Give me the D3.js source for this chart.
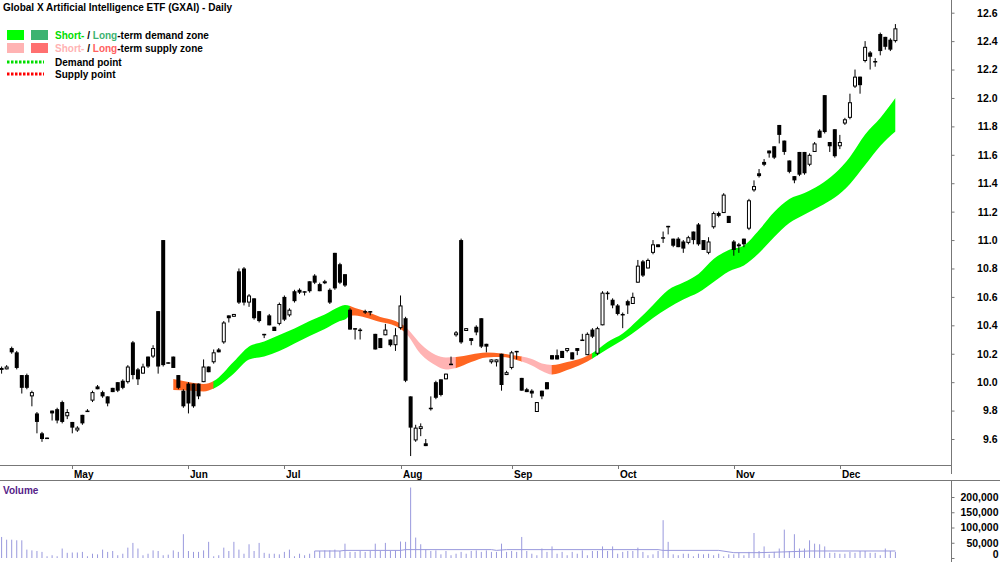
<!DOCTYPE html>
<html>
<head>
<meta charset="utf-8">
<script src="https://cdn.jsdelivr.net/npm/d3@7"></script>
<style>
  body { margin: 0; background: #fff; }
  svg { display: block; font-family: "Liberation Sans", Arial, sans-serif; }
</style>
</head>
<body>
<svg id="chart" width="1000" height="562"></svg>
<script>
// daily candles, 10 Apr 2024 .. 17 Dec 2024 (trading days, index 0..177)
const opens = [
  10.09,10.09,10.24,10.21,10.05,10.05,9.90,9.78,9.64,9.61,
  9.80,9.81,9.86,9.76,9.72,9.66,9.77,9.80,9.87,9.97,
  9.93,9.90,9.96,10.00,10.01,10.00,10.28,10.09,10.06,10.18,
  10.18,10.50,11.00,10.14,10.18,10.05,9.94,9.99,9.99,9.99,
  10.00,10.11,10.14,10.23,10.28,10.47,10.46,10.78,10.80,10.56,
  10.59,10.50,10.34,10.47,10.39,10.41,10.60,10.47,10.64,10.65,
  10.64,10.71,10.75,10.69,10.70,10.65,10.91,10.83,10.76,10.51,
  10.38,10.37,10.50,10.50,10.34,10.31,10.33,10.30,10.26,10.38,
  10.45,9.90,9.59,9.67,9.57,9.82,10.00,10.02,10.02,10.13,
  10.33,11.00,10.36,10.31,10.39,10.45,10.27,10.14,10.14,10.20,
  10.05,10.10,10.22,10.03,9.95,9.94,9.79,9.94,10.00,10.19,
  10.19,10.22,10.22,10.21,10.24,10.30,10.19,10.37,10.20,10.40,
  10.63,10.58,10.54,10.48,10.57,10.55,10.70,10.85,10.80,10.91,
  10.97,11.02,11.10,11.01,11.01,10.99,10.98,11.06,11.11,11.00,
  10.91,11.09,11.19,11.19,11.17,10.99,10.96,11.01,11.08,11.35,
  11.47,11.55,11.63,11.66,11.81,11.70,11.56,11.45,11.62,11.62,
  11.53,11.62,11.77,12.02,11.69,11.78,11.66,11.82,11.86,12.08,
  12.15,12.26,12.32,12.26,12.45,12.43,12.41,12.40
];
const highs = [
  10.11,10.12,10.25,10.22,10.05,10.06,9.94,9.79,9.65,9.61,
  9.80,9.82,9.87,9.81,9.72,9.69,9.77,9.81,9.94,9.98,
  9.94,9.90,9.96,10.00,10.02,10.12,10.29,10.10,10.13,10.18,
  10.26,10.50,11.00,10.14,10.18,10.05,9.95,10.00,9.99,9.99,
  10.16,10.11,10.23,10.24,10.43,10.47,10.48,10.80,10.81,10.62,
  10.59,10.50,10.34,10.48,10.39,10.56,10.61,10.52,10.65,10.66,
  10.64,10.71,10.76,10.70,10.72,10.66,10.91,10.84,10.76,10.52,
  10.38,10.38,10.51,10.50,10.34,10.31,10.41,10.30,10.38,10.61,
  10.46,9.90,9.70,9.71,9.60,9.90,10.01,10.02,10.06,10.18,
  10.36,11.01,10.38,10.31,10.40,10.45,10.27,10.16,10.16,10.20,
  10.08,10.22,10.22,10.03,9.96,9.95,9.86,9.94,10.00,10.19,
  10.23,10.22,10.24,10.21,10.24,10.34,10.35,10.38,10.39,10.64,
  10.64,10.59,10.55,10.49,10.58,10.63,10.86,10.86,10.87,11.00,
  10.97,11.06,11.10,11.01,11.02,11.00,11.03,11.06,11.12,11.00,
  11.02,11.20,11.20,11.33,11.17,11.00,10.98,11.01,11.29,11.42,
  11.50,11.57,11.63,11.66,11.81,11.70,11.56,11.45,11.62,11.62,
  11.61,11.69,11.78,12.02,11.69,11.78,11.74,11.86,12.03,12.20,
  12.15,12.40,12.33,12.28,12.46,12.43,12.42,12.52
];
const lows = [
  10.06,10.09,10.20,10.09,9.92,9.95,9.83,9.64,9.58,9.60,
  9.73,9.71,9.71,9.74,9.64,9.65,9.70,9.79,9.86,9.95,
  9.89,9.83,9.93,9.93,9.95,9.99,10.02,9.98,10.06,10.10,
  10.17,10.06,10.11,10.13,10.10,9.95,9.82,9.78,9.82,9.88,
  10.00,10.07,10.13,10.21,10.27,10.42,10.46,10.55,10.54,10.53,
  10.44,10.42,10.31,10.40,10.36,10.40,10.43,10.46,10.56,10.62,
  10.61,10.63,10.69,10.64,10.69,10.55,10.65,10.69,10.67,10.37,
  10.30,10.30,10.48,10.47,10.23,10.24,10.33,10.25,10.22,10.37,
  10.00,9.48,9.58,9.62,9.55,9.80,9.88,9.90,10.02,10.12,
  10.32,10.27,10.36,10.26,10.33,10.24,10.21,10.13,10.11,9.94,
  10.05,10.09,10.16,9.94,9.93,9.89,9.79,9.88,9.95,10.16,
  10.16,10.17,10.21,10.16,10.19,10.29,10.19,10.31,10.19,10.40,
  10.58,10.52,10.47,10.38,10.48,10.55,10.70,10.74,10.80,10.90,
  10.95,10.98,11.04,10.95,10.95,10.91,10.97,10.97,10.96,10.93,
  10.90,11.08,11.16,11.19,11.12,10.89,10.91,10.95,11.07,11.34,
  11.44,11.52,11.58,11.57,11.68,11.60,11.47,11.40,11.45,11.46,
  11.52,11.62,11.72,11.75,11.62,11.58,11.64,11.81,11.85,12.07,
  12.03,12.25,12.20,12.22,12.30,12.34,12.33,12.39
];
const closes = [
  10.10,10.11,10.21,10.10,9.96,9.96,9.93,9.72,9.60,9.60,
  9.78,9.73,9.72,9.79,9.68,9.68,9.71,9.79,9.93,9.95,
  9.90,9.85,9.93,9.94,9.96,10.11,10.05,10.02,10.11,10.11,
  10.24,10.11,10.12,10.13,10.10,9.96,9.83,9.85,9.83,9.90,
  10.11,10.07,10.21,10.21,10.42,10.45,10.48,10.56,10.56,10.61,
  10.45,10.43,10.33,10.40,10.36,10.55,10.44,10.51,10.57,10.63,
  10.63,10.64,10.70,10.64,10.71,10.56,10.66,10.70,10.68,10.37,
  10.37,10.36,10.49,10.49,10.23,10.24,10.37,10.26,10.33,10.54,
  10.01,9.68,9.68,9.69,9.55,9.81,9.89,9.91,10.06,10.12,
  10.35,10.28,10.38,10.29,10.35,10.25,10.25,10.16,10.16,9.98,
  10.07,10.21,10.21,9.94,9.93,9.92,9.86,9.90,9.95,10.16,
  10.16,10.17,10.24,10.16,10.22,10.29,10.34,10.32,10.38,10.63,
  10.62,10.54,10.48,10.47,10.54,10.60,10.82,10.75,10.86,10.97,
  10.95,11.01,11.09,10.96,10.95,10.94,11.02,11.00,10.97,10.93,
  10.99,11.19,11.17,11.32,11.12,10.93,10.97,10.97,11.28,11.38,
  11.45,11.53,11.61,11.58,11.74,11.62,11.48,11.42,11.46,11.47,
  11.60,11.68,11.72,11.76,11.66,11.59,11.69,11.85,11.97,12.15,
  12.09,12.36,12.29,12.25,12.33,12.36,12.34,12.49
];
const volumes = [
  69000,60000,60000,58000,58000,27500,25000,23000,20000,5600,
  9000,5600,31000,17000,18000,18000,20000,5600,14000,12000,
  27500,20000,23000,9000,14000,34000,49500,31000,9000,14000,
  25000,23000,9000,11000,25000,20000,78000,23000,20000,20000,
  25000,53000,5600,9000,34000,23000,53000,27500,14000,45000,
  23000,49500,17000,14000,14000,12000,20000,27500,5600,14000,
  9000,14000,23000,23000,25000,25000,27500,23000,47000,20000,
  20000,23000,20000,23000,47000,23000,49500,23000,25000,54000,
  53000,231000,67000,45000,27500,23000,25000,12000,23000,9000,
  14000,20000,14000,23000,25000,20000,25000,20000,20000,47000,
  20000,23000,20000,69000,23000,14000,9000,31000,20000,38000,
  14000,20000,9000,20000,14000,25000,9000,23000,23000,38000,
  23000,38000,14000,20000,23000,23000,34000,20000,9000,12000,
  23000,124000,53000,12000,9000,14000,14000,5600,14000,12000,
  14000,9000,14000,5600,12000,12000,17000,9000,20000,82000,
  23000,38000,12000,20000,31000,93000,23000,78000,31000,31000,
  58000,47000,45000,38000,17000,17000,14000,14000,20000,17000,
  23000,23000,17000,17000,9000,31000,23000,20000
];

// volume moving average (read at a few days)
const volMAIdx = [62, 67, 68, 79, 80, 97, 98, 100, 130, 131, 142, 145, 150, 155, 160, 177];
const volMA    = [23000, 23000, 25000, 25000, 27500, 27500, 25000, 27500, 27500, 25000, 25000, 17500, 17500, 20000, 23000, 23000];

// demand / supply ribbon edges
const bandIdx = [34,37,40,42,46,49,52,55,58,61,64,67,68,69,70,72,75,78,80,83,86,88,90,93,96,99,101,103,105,107,109,112,115,117,120,123,126,129,132,135,138,141,144,147,150,153,156,159,162,165,168,171,174,177];
const bandUpper = [10.022,10.001,9.987,10.008,10.145,10.251,10.286,10.332,10.378,10.430,10.476,10.532,10.543,10.536,10.522,10.501,10.459,10.430,10.388,10.269,10.191,10.174,10.177,10.195,10.209,10.202,10.191,10.181,10.163,10.131,10.121,10.142,10.170,10.205,10.283,10.342,10.437,10.543,10.649,10.701,10.761,10.867,10.930,10.962,11.071,11.197,11.289,11.331,11.387,11.468,11.585,11.743,11.859,12.000];
const bandLower = [9.945,9.941,9.934,9.955,10.061,10.159,10.181,10.219,10.272,10.325,10.374,10.430,10.441,10.466,10.469,10.455,10.423,10.395,10.346,10.198,10.117,10.089,10.100,10.142,10.174,10.177,10.167,10.145,10.117,10.079,10.054,10.086,10.128,10.167,10.233,10.297,10.371,10.451,10.522,10.582,10.631,10.705,10.779,10.821,10.909,11.022,11.120,11.180,11.236,11.299,11.395,11.528,11.662,11.764];

// ribbon colouring segments
const zoneFrom = [34, 42, 69, 80, 90, 103, 109, 117];
const zoneTo   = [42, 69, 80, 90, 103, 109, 117, 177];
const zoneKind = ["orange", "green", "orange", "pink", "orange", "pink", "orange", "green"];
const zoneColor = { green: "#00ff00", orange: "#ff6622", pink: "#ffb3b3" };

const monthLabels = ["May", "Jun", "Jul", "Aug", "Sep", "Oct", "Nov", "Dec"];
const monthStart  = [14, 37, 56, 79, 101, 122, 145, 166];
const priceTicks  = [9.6, 9.8, 10.0, 10.2, 10.4, 10.6, 10.8, 11.0, 11.2, 11.4, 11.6, 11.8, 12.0, 12.2, 12.4, 12.6];
const volumeTicks = [0, 50000, 100000, 150000, 200000];

const axisX = 951.5;
const svg = d3.select("#chart");

const x = d3.scaleLinear().domain([0, 177]).range([1.6, 895.4]);
const y = d3.scaleLinear().domain([9.6, 12.6]).range([439, 12.7]);
const yv = d3.scaleLinear().domain([0, 200000]).range([558, 497]);

// ---- ribbon
const band = bandIdx.map((d, k) => ({ i: d, hi: bandUpper[k], lo: bandLower[k] }));
const area = d3.area()
  .x(d => x(d.i))
  .y0(d => y(d.lo))
  .y1(d => y(d.hi))
  .curve(d3.curveMonotoneX);
const defs = svg.append("defs");
zoneFrom.forEach((f, k) => {
  const id = "zone" + k;
  defs.append("clipPath").attr("id", id)
    .append("rect")
    .attr("x", x(f) - 0.3)
    .attr("y", 0)
    .attr("width", x(zoneTo[k]) - x(f) + 0.6)
    .attr("height", 465);
  svg.append("path")
    .datum(band)
    .attr("d", area)
    .attr("fill", zoneColor[zoneKind[k]])
    .attr("clip-path", `url(#${id})`);
});

// ---- candles
const candles = opens.map((o, i) => ({ i, o, h: highs[i], l: lows[i], c: closes[i] }));
const cg = svg.append("g");
cg.selectAll("line")
  .data(candles)
  .join("line")
  .attr("x1", d => x(d.i)).attr("x2", d => x(d.i))
  .attr("y1", d => y(d.h)).attr("y2", d => y(d.l))
  .attr("stroke", "#000").attr("stroke-width", 1);
cg.selectAll("rect")
  .data(candles)
  .join("rect")
  .attr("x", d => d.c >= d.o ? x(d.i) - 1.5 : x(d.i) - 2)
  .attr("width", d => d.c >= d.o ? 3 : 4)
  .attr("y", d => {
    const t = y(Math.max(d.o, d.c));
    return d.c >= d.o ? t + 0.5 : t;
  })
  .attr("height", d => {
    const hgt = Math.max(1.5, y(Math.min(d.o, d.c)) - y(Math.max(d.o, d.c)));
    return d.c >= d.o ? Math.max(1, hgt - 1) : hgt;
  })
  .attr("fill", d => d.c >= d.o ? "#fff" : "#000")
  .attr("stroke", d => d.c >= d.o ? "#000" : "none")
  .attr("stroke-width", 1);

// ---- frame lines
svg.append("line").attr("x1", 0).attr("x2", axisX).attr("y1", 465.5).attr("y2", 465.5).attr("stroke", "#777");
svg.append("line").attr("x1", 0).attr("x2", 1000).attr("y1", 480.5).attr("y2", 480.5).attr("stroke", "#777");
svg.append("line").attr("x1", axisX).attr("x2", axisX).attr("y1", 0).attr("y2", 474).attr("stroke", "#777");
svg.append("line").attr("x1", axisX).attr("x2", axisX).attr("y1", 480).attr("y2", 562).attr("stroke", "#777");

// ---- price axis
const pa = svg.append("g")
  .attr("transform", `translate(${axisX},0)`)
  .call(d3.axisRight(y).tickValues(priceTicks).tickSize(3).tickFormat(d3.format(".1f")));
pa.select(".domain").remove();
pa.selectAll("line").attr("stroke", "#777");
pa.selectAll("text")
  .attr("x", 46).attr("text-anchor", "end")
  .attr("font-size", "10.5px").attr("font-weight", "bold")
  .attr("font-family", "Liberation Sans, Arial, sans-serif").attr("fill", "#000");

// ---- month axis
const mg = svg.append("g");
monthStart.forEach((m, k) => {
  const mx = Math.round(x(m)) + 0.5;
  mg.append("line").attr("x1", mx).attr("x2", mx).attr("y1", 465.5).attr("y2", 469).attr("stroke", "#777");
  mg.append("text").attr("x", mx + 1.5).attr("y", 477.5)
    .attr("font-size", "10px").attr("font-weight", "bold").text(monthLabels[k]);
});

// ---- volume panel
svg.append("g")
  .selectAll("line")
  .data(volumes)
  .join("line")
  .attr("x1", (v, i) => x(i)).attr("x2", (v, i) => x(i))
  .attr("y1", yv(0)).attr("y2", v => yv(v))
  .attr("stroke", "#9999dd").attr("stroke-width", 1);

svg.append("path")
  .datum(volMAIdx.map((d, k) => [d, volMA[k]]))
  .attr("d", d3.line().x(d => x(d[0])).y(d => yv(d[1])))
  .attr("fill", "none").attr("stroke", "#9999dd").attr("stroke-width", 1);

const va = svg.append("g")
  .attr("transform", `translate(${axisX},0)`)
  .call(d3.axisRight(yv).tickValues(volumeTicks).tickSize(3).tickFormat(d3.format(",")));
va.select(".domain").remove();
va.selectAll("line").attr("stroke", "#777");
va.selectAll("text")
  .attr("x", 47).attr("text-anchor", "end")
  .attr("font-size", "10.5px").attr("font-weight", "bold")
  .attr("font-family", "Liberation Sans, Arial, sans-serif").attr("fill", "#000");
// keep the "0" label inside the picture
va.selectAll("text").filter(d => d === 0).attr("dy", "-0.05em");

svg.append("text").attr("x", 3).attr("y", 493.5)
  .attr("font-size", "10px").attr("font-weight", "bold").attr("fill", "#552288")
  .text("Volume");

// ---- title and legend
svg.append("text").attr("x", 3).attr("y", 11)
  .attr("font-size", "10px").attr("font-weight", "bold")
  .text("Global X Artificial Intelligence ETF (GXAI) - Daily");

const lg = svg.append("g").attr("font-size", "10px").attr("font-weight", "bold");
lg.append("rect").attr("x", 7).attr("y", 30).attr("width", 17).attr("height", 10).attr("fill", "#00ff00");
lg.append("rect").attr("x", 31).attr("y", 30).attr("width", 17).attr("height", 10).attr("fill", "#3cb371");
lg.append("rect").attr("x", 7).attr("y", 43).attr("width", 17).attr("height", 10).attr("fill", "#ffb3b3");
lg.append("rect").attr("x", 31).attr("y", 43).attr("width", 17).attr("height", 10).attr("fill", "#ff7070");
lg.append("line").attr("x1", 7).attr("x2", 44).attr("y1", 62).attr("y2", 62)
  .attr("stroke", "#00dd00").attr("stroke-width", 3).attr("stroke-dasharray", "2.5,1.5");
lg.append("line").attr("x1", 7).attr("x2", 44).attr("y1", 74).attr("y2", 74)
  .attr("stroke", "#ff0000").attr("stroke-width", 3).attr("stroke-dasharray", "2.5,1.5");

const t1 = lg.append("text").attr("x", 55).attr("y", 38.5);
t1.append("tspan").attr("fill", "#00dd00").text("Short-");
t1.append("tspan").text(" / ");
t1.append("tspan").attr("fill", "#3cb371").text("Long");
t1.append("tspan").text("-term demand zone");
const t2 = lg.append("text").attr("x", 55).attr("y", 51.5);
t2.append("tspan").attr("fill", "#ffb3b3").text("Short-");
t2.append("tspan").text(" / ");
t2.append("tspan").attr("fill", "#ff6060").text("Long");
t2.append("tspan").text("-term supply zone");
lg.append("text").attr("x", 55).attr("y", 65.5).text("Demand point");
lg.append("text").attr("x", 55).attr("y", 78).text("Supply point");
</script>
</body>
</html>
